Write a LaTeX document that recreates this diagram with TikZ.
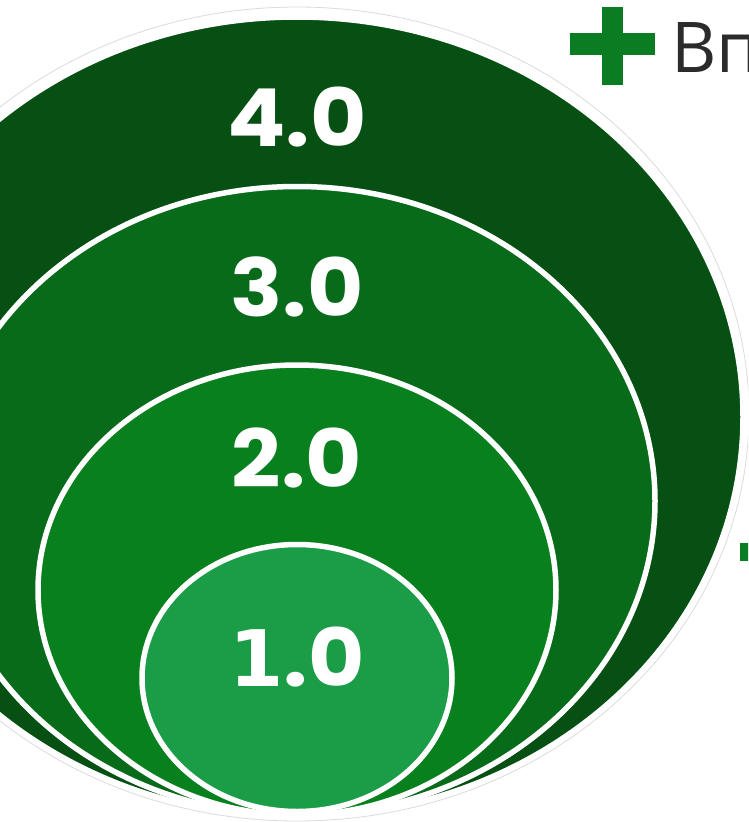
\documentclass[tikz,border=0pt]{standalone}
\usepackage{fontspec}
\usetikzlibrary{shapes.geometric,positioning}
\newfontfamily\numfont{Poppins}[FakeStretch=1.08]
\newfontfamily\onefont{DejaVu Sans}
\newfontfamily\capfont{Open Sans}
\definecolor{ringA}{HTML}{1B9D48}
\definecolor{ringB}{HTML}{08801E}
\definecolor{ringC}{HTML}{076B1A}
\definecolor{ringD}{HTML}{055012}
\definecolor{plusgreen}{HTML}{0A7D22}
\definecolor{captext}{HTML}{2B2B2B}
\tikzset{
  ring/.style={ellipse,fill=#1,draw=white,line width=5.5pt,inner sep=0pt},
  lvl/.style={text=white,inner sep=0pt,font=\numfont\bfseries\fontsize{80}{80}\selectfont},
  plusarm/.style={fill=plusgreen,draw=none}
}
\begin{document}
\begin{tikzpicture}[x=1pt,y=-1pt]
  \clip (0,0) rectangle (748,822);
  \fill[white] (0,0) rectangle (748,822);
  % faint outer rim
  \draw[black!14,line width=0.8pt] (297,414) ellipse [x radius=452, y radius=407];
  % rings, outermost first
  \foreach \n/\cx/\cy/\w/\h/\c in {r4/297/417/892/800/ringD,
                                   r3/297/501/716/629/ringC,
                                   r2/297/590/518/450/ringB,
                                   r1/297/678/310/267/ringA}
    {\node[ring=\c,minimum width=\w pt,minimum height=\h pt] (\n) at (\cx,\cy) {};}
  \node[lvl] (t4) at ([yshift=-103pt]r4.north) {4.0};
  \node[lvl] (t3) at ([yshift=-103pt]r3.north) {3.0};
  \node[lvl] (t2) at ([yshift=-96pt]r2.north) {2.0};
  \node[lvl] (t1) at ([yshift=-115pt]r1.north) {{\onefont\fontsize{78}{78}\selectfont 1}.0};
  % legend
  \fill[plusarm] (570,33) rectangle (655,55);
  \fill[plusarm] (602,7) rectangle (623,85);
  \node[anchor=base west,inner sep=0pt,text=captext,font=\capfont\fontsize{70}{70}\selectfont]
    (cap) at (671,72) {Вп};
  \fill[plusarm] (740,543) rectangle (770,561);
\end{tikzpicture}
\end{document}
